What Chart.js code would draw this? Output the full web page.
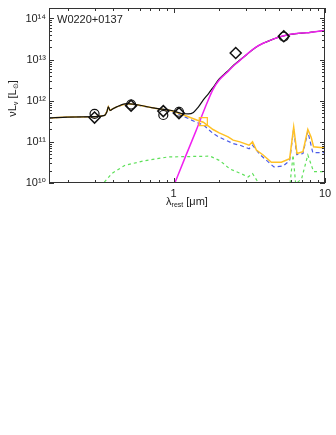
<!DOCTYPE html>
<html>
<head>
<meta charset="utf-8">
<script src="https://cdn.jsdelivr.net/npm/chart.js@4.4.1/dist/chart.umd.min.js"></script>
<style>
  html, body { margin: 0; padding: 0; background: #fff; }
  #wrap { position: relative; width: 336px; height: 435px; }
</style>
</head>
<body>
<div id="wrap"><canvas id="sed"></canvas></div>
<script>
const sourceName = 'W0220+0137'

// photometry: rest wavelength (micron) and nuLnu (Lsun)
const diamondWave = [0.30, 0.523, 0.854, 1.084, 2.57, 5.34]
const diamondLum = [3.9e11, 7.6e11, 5.6e11, 5.0e11, 1.45e13, 3.7e13]
const circleWave = [0.30, 0.523, 0.854, 1.084, 5.34]
const circleLum = [4.8e11, 8.1e11, 4.5e11, 5.4e11, 3.6e13]
const squareWave = [1.57]
const squareLum = [3.1e11]

// total model (black)
const totalWave = [0.15, 0.2, 0.3, 0.35, 0.362, 0.37, 0.38, 0.40, 0.42, 0.49, 0.56, 0.75, 0.97, 1.13, 1.25, 1.35, 1.45, 1.57, 1.7, 1.82, 2.0, 2.24, 2.5, 2.74, 3.03, 3.5, 3.9, 4.5, 5.0, 5.5, 6.47, 7.5, 8.33, 10]
const totalLum = [3.8e11, 4.0e11, 4.1e11, 4.4e11, 5.4e11, 7.1e11, 5.8e11, 6.5e11, 7.1e11, 8.5e11, 8.1e11, 6.6e11, 5.8e11, 4.9e11, 4.8e11, 5.2e11, 6.9e11, 1.05e12, 1.5e12, 2.1e12, 3.4e12, 5.0e12, 7.4e12, 9.8e12, 1.32e13, 2.0e13, 2.5e13, 3.1e13, 3.55e13, 3.9e13, 4.3e13, 4.5e13, 4.7e13, 5.1e13]

// hot dust (magenta)
const dustWave = [1.0, 1.2, 1.4, 1.6, 1.82, 2.0, 2.24, 2.5, 2.74, 3.03, 3.5, 3.9, 4.5, 5.0, 5.5, 6.47, 7.5, 8.33, 10]
const dustLum = [8.5e9, 4.5e10, 1.8e11, 6.3e11, 1.9e12, 3.2e12, 4.8e12, 7.2e12, 9.5e12, 1.32e13, 2.0e13, 2.5e13, 3.1e13, 3.55e13, 3.9e13, 4.3e13, 4.5e13, 4.7e13, 5.1e13]

// host + scattered light (yellow)
const hostWave = [0.15, 0.2, 0.3, 0.35, 0.362, 0.37, 0.38, 0.40, 0.42, 0.49, 0.56, 0.75, 0.97, 1.13, 1.42, 1.57, 1.82, 2.0, 2.29, 2.47, 2.74, 3.15, 3.32, 3.52, 3.9, 4.42, 5.15, 5.84, 6.21, 6.53, 7.15, 7.7, 8.1, 8.4, 10]
const hostLum = [3.8e11, 4.0e11, 4.1e11, 4.4e11, 5.4e11, 7.1e11, 5.8e11, 6.5e11, 7.1e11, 8.5e11, 8.1e11, 6.6e11, 5.7e11, 4.7e11, 3.4e11, 3.0e11, 2.0e11, 1.66e11, 1.32e11, 1.1e11, 1.0e11, 8.3e10, 1.0e11, 6.3e10, 4.8e10, 3.2e10, 3.2e10, 3.9e10, 2.3e11, 5.2e10, 5.8e10, 2.0e11, 1.3e11, 7.6e10, 7.1e10]

// old stars (blue dashed)
const starWave = [0.15, 0.2, 0.3, 0.35, 0.362, 0.37, 0.38, 0.40, 0.42, 0.49, 0.56, 0.75, 0.97, 1.13, 1.42, 1.57, 1.82, 2.0, 2.47, 2.74, 3.15, 3.32, 3.7, 4.6, 5.3, 5.84, 6.21, 6.5, 7.15, 7.7, 8.3, 10]
const starLum = [3.8e11, 4.0e11, 4.1e11, 4.4e11, 5.4e11, 7.1e11, 5.8e11, 6.5e11, 7.1e11, 8.5e11, 8.0e11, 6.5e11, 5.5e11, 4.4e11, 2.95e11, 2.6e11, 1.6e11, 1.3e11, 9.1e10, 8.3e10, 6.8e10, 8.3e10, 5.0e10, 2.45e10, 2.6e10, 3.5e10, 2.1e11, 4.9e10, 5.2e10, 1.8e11, 5.5e10, 5.5e10]

// young stars (green dashed)
const youngWave = [0.33, 0.344, 0.39, 0.477, 0.646, 0.92, 1.28, 1.74, 2.02, 2.35, 2.88, 3.1, 3.32, 3.7, 4.8, 5.8, 6.15, 6.4, 7.0, 7.7, 8.0, 8.4, 10]
const youngLum = [8e9, 1.0e10, 1.7e10, 2.7e10, 3.5e10, 4.3e10, 4.4e10, 4.5e10, 3.5e10, 2.2e10, 1.6e10, 1.4e10, 1.7e10, 9e9, 3e9, 6e9, 4.8e10, 9.5e9, 1.26e10, 4.8e10, 3.2e10, 1.9e10, 1.9e10]

const xLabelValues = [1, 10]
const yLabelPowers = [10, 11, 12, 13, 14]

const pts = (xs, ys) => xs.map((x, i) => ({ x, y: ys[i] }))
const sup = n => String(n).split('').map(c => '⁰¹²³⁴⁵⁶⁷⁸⁹'[+c]).join('')
const ink = '#222'

function logTicks(scale) {
  const t = []
  const lo = Math.floor(Math.log10(scale.min))
  const hi = Math.ceil(Math.log10(scale.max))
  for (let e = lo; e <= hi; e++) {
    for (let d = 1; d <= 9; d++) {
      const v = d * Math.pow(10, e)
      if (v >= scale.min * 0.999 && v <= scale.max * 1.001) t.push({ value: v, major: d === 1 })
    }
  }
  scale.ticks = t
}

function drawRuns(ctx, runs, x, y) {
  let w = 0
  runs.forEach(r => { ctx.font = r.size + 'px "Liberation Sans", Arial, sans-serif'; w += ctx.measureText(r.text).width })
  let cx = x - w / 2
  runs.forEach(r => {
    ctx.font = r.size + 'px "Liberation Sans", Arial, sans-serif'
    ctx.fillText(r.text, cx, y + r.dy)
    cx += ctx.measureText(r.text).width
  })
}

const frame = {
  id: 'frame',
  afterDraw(chart) {
    const { ctx, chartArea: a, scales: { x, y } } = chart
    ctx.save()
    ctx.strokeStyle = '#333'
    ctx.lineWidth = 1
    ctx.beginPath()
    x.ticks.forEach(t => {
      const px = Math.round(x.getPixelForValue(t.value)) + 0.5
      const len = t.major ? 5 : 3
      ctx.moveTo(px, a.bottom); ctx.lineTo(px, a.bottom - len)
      ctx.moveTo(px, a.top); ctx.lineTo(px, a.top + len)
    })
    y.ticks.forEach(t => {
      const py = Math.round(y.getPixelForValue(t.value)) + 0.5
      const len = t.major ? 5 : 3
      ctx.moveTo(a.left, py); ctx.lineTo(a.left + len, py)
      ctx.moveTo(a.right, py); ctx.lineTo(a.right - len, py)
    })
    ctx.stroke()
    ctx.strokeRect(Math.round(a.left) + 0.5, Math.round(a.top) + 0.5, Math.round(a.width) - 1, Math.round(a.height) - 1)

    ctx.fillStyle = ink
    ctx.textBaseline = 'alphabetic'
    ctx.font = '11px "Liberation Sans", Arial, sans-serif'
    ctx.fillText(sourceName, a.left + 8, a.top + 15)

    drawRuns(ctx, [
      { text: 'λ', size: 11, dy: 0 },
      { text: 'rest', size: 7, dy: 2 },
      { text: ' [μm]', size: 11, dy: 0 }
    ], (a.left + a.right) / 2, a.bottom + 22)

    ctx.translate(16, (a.top + a.bottom) / 2 + 3)
    ctx.rotate(-Math.PI / 2)
    drawRuns(ctx, [
      { text: 'νL', size: 11, dy: 0 },
      { text: 'ν', size: 7, dy: 2 },
      { text: ' [L', size: 11, dy: 0 },
      { text: '⊙', size: 7, dy: 2 },
      { text: ']', size: 11, dy: 0 }
    ], 0, 0)
    ctx.restore()
  }
}

new Chart(document.getElementById('sed').getContext('2d'), {
  type: 'line',
  data: {
    datasets: [
      { data: pts(diamondWave, diamondLum), showLine: false, pointStyle: 'rectRot', pointRadius: 5.5, borderColor: '#111', backgroundColor: 'rgba(0,0,0,0)', pointBorderWidth: 1.5, order: 0 },
      { data: pts(circleWave, circleLum), showLine: false, pointStyle: 'circle', pointRadius: 4.5, borderColor: '#111', backgroundColor: 'rgba(0,0,0,0)', pointBorderWidth: 1.2, order: 0 },
      { data: pts(squareWave, squareLum), showLine: false, pointStyle: 'rect', pointRadius: 5.7, borderColor: '#ffc125', backgroundColor: 'rgba(0,0,0,0)', pointBorderWidth: 1.2, order: 0 },
      { data: pts(dustWave, dustLum), borderColor: '#f020f0', borderWidth: 1.5, pointRadius: 0, cubicInterpolationMode: 'monotone', order: 1 },
      { data: pts(totalWave, totalLum), borderColor: '#111', borderWidth: 1.2, pointRadius: 0, cubicInterpolationMode: 'monotone', order: 2 },
      { data: pts(hostWave, hostLum), borderColor: '#ffc125', borderWidth: 1.5, pointRadius: 0, tension: 0, order: 3 },
      { data: pts(starWave, starLum), borderColor: '#4a5ae8', borderWidth: 1.2, borderDash: [4, 3], pointRadius: 0, tension: 0, order: 4 },
      { data: pts(youngWave, youngLum), borderColor: '#5ee05a', borderWidth: 1.2, borderDash: [3, 3], pointRadius: 0, tension: 0, order: 5 }
    ]
  },
  options: {
    responsive: true,
    maintainAspectRatio: false,
    animation: false,
    events: [],
    layout: { padding: { left: 0, top: 8, right: 11, bottom: 232 } },
    plugins: { legend: { display: false }, tooltip: { enabled: false } },
    scales: {
      x: {
        type: 'logarithmic',
        min: 0.15,
        max: 10,
        border: { display: false },
        grid: { display: false, drawTicks: false },
        afterBuildTicks: logTicks,
        afterFit: s => { s.height = 20; s.paddingLeft = 0; s.paddingRight = 0 },
        ticks: {
          autoSkip: false,
          maxRotation: 0,
          padding: 4,
          color: ink,
          font: { family: '"Liberation Sans", Arial, sans-serif', size: 11 },
          callback: v => xLabelValues.includes(v) ? String(v) : ''
        }
      },
      y: {
        type: 'logarithmic',
        min: 1e10,
        max: 1.8e14,
        border: { display: false },
        grid: { display: false, drawTicks: false },
        afterBuildTicks: logTicks,
        afterFit: s => { s.width = 49; s.paddingTop = 0; s.paddingBottom = 0 },
        ticks: {
          autoSkip: false,
          padding: 3,
          color: ink,
          font: { family: '"Liberation Sans", "DejaVu Sans", Arial, sans-serif', size: 11 },
          callback: v => {
            const p = Math.round(Math.log10(v))
            return Math.abs(Math.log10(v) - p) < 1e-6 && yLabelPowers.includes(p) ? '10' + sup(p) : ''
          }
        }
      }
    }
  },
  plugins: [frame]
})
</script>
</body>
</html>
